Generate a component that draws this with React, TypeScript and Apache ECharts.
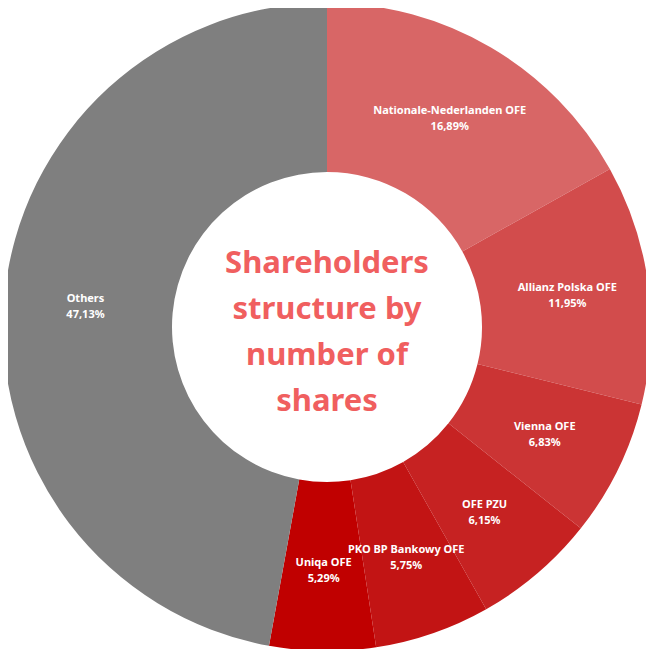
import React, { useEffect, useRef } from "react";
import * as echarts from "echarts";

const names = [
  "Nationale-Nederlanden OFE",
  "Allianz Polska OFE",
  "Vienna OFE",
  "OFE PZU",
  "PKO BP Bankowy OFE",
  "Uniqa OFE",
  "Others",
];
const shares = [16.89, 11.95, 6.83, 6.15, 5.75, 5.29, 47.13];
const colors = ["#D86666", "#D24C4C", "#CB3434", "#C62222", "#C21414", "#C00000", "#7F7F7F"];
const centerTitle = "Shareholders\nstructure by\nnumber of\nshares";

export default function App() {
  const ref = useRef<HTMLDivElement>(null);
  useEffect(() => {
    if (!ref.current) return;
    const chart = echarts.init(ref.current, undefined, { renderer: "svg" });
    chart.setOption({
      animation: false,
      backgroundColor: "#ffffff",
      series: [
        {
          type: "pie",
          center: [327, 327],
          radius: [155, 324],
          startAngle: 90,
          clockwise: true,
          avoidLabelOverlap: false,
          minShowLabelAngle: 0,
          labelLayout: { hideOverlap: false },
          label: {
            show: true,
            position: "inside",
            color: "#ffffff",
            fontFamily: "Noto Sans",
            fontWeight: "bold",
            fontSize: 11,
            lineHeight: 16,
            formatter: (p: any) => `${p.name}\n${p.value.toFixed(2).replace(".", ",")}%`,
          },
          labelLine: { show: false },
          emphasis: { disabled: true },
          data: names.map((n, i) => ({
            name: n,
            value: shares[i],
            itemStyle: { color: colors[i] },
          })),
        },
      ],
      graphic: [
        {
          type: "text",
          x: 327,
          y: 330,
          style: {
            text: centerTitle,
            fill: "#F05F5F",
            fontFamily: "Noto Sans",
            fontWeight: "bold",
            fontSize: 31,
            lineHeight: 46,
            align: "center",
            verticalAlign: "middle",
          },
        },
      ],
    });
    return () => chart.dispose();
  }, []);
  return <div ref={ref} style={{ width: 654, height: 657, margin: -8 }} />;
}
